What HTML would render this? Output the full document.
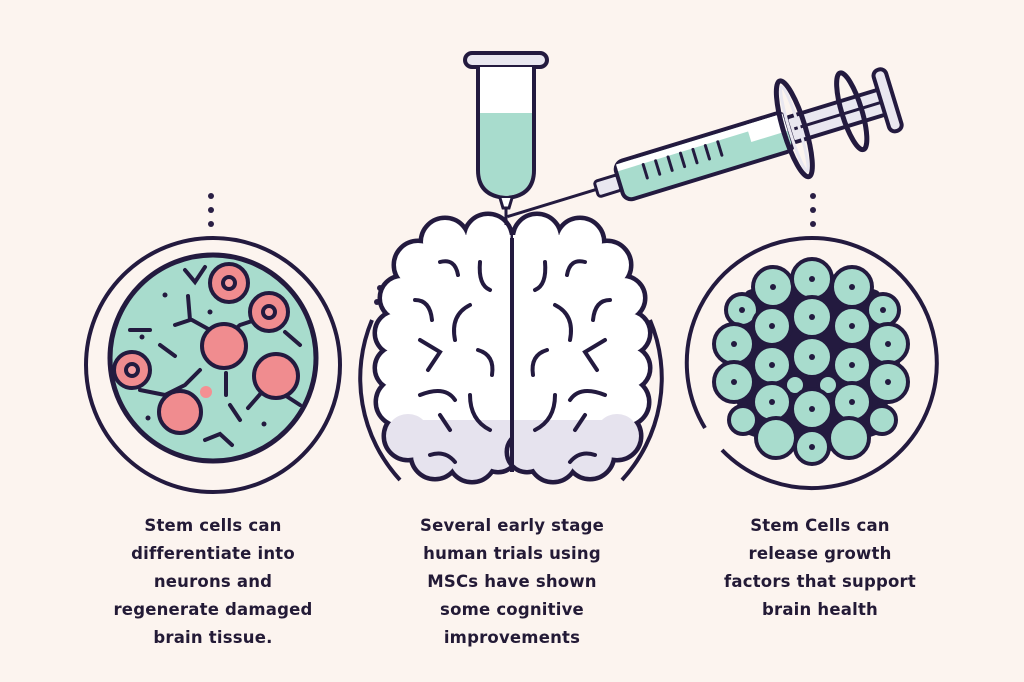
<!DOCTYPE html>
<html><head><meta charset="utf-8"><style>
html,body{margin:0;padding:0;background:#fcf4ef;}
.t{position:absolute;width:260px;text-align:center;font-family:"DejaVu Sans","Liberation Sans",sans-serif;font-weight:bold;font-size:16.5px;line-height:28px;color:#231a36;letter-spacing:0.2px}
</style></head><body>
<div style="position:relative;width:1024px;height:682px;overflow:hidden">
<svg width="1024" height="682" viewBox="0 0 1024 682" style="position:absolute;left:0;top:0">
<g fill="#2a1f45">
<circle cx="211" cy="196" r="3"/><circle cx="211" cy="210" r="3"/><circle cx="211" cy="224" r="3"/>
<circle cx="813" cy="196" r="3"/><circle cx="813" cy="210" r="3"/><circle cx="813" cy="224" r="3"/>
<circle cx="377" cy="302" r="3"/><circle cx="380" cy="288" r="3"/><circle cx="642" cy="306" r="3"/>
</g>
<!-- left -->
<circle cx="213" cy="365" r="127" fill="none" stroke="#231a3f" stroke-width="4"/>
<circle cx="213" cy="358" r="103" fill="#a8dccd" stroke="#231a3f" stroke-width="5"/>
<g stroke="#231a3f" stroke-width="4" fill="none" stroke-linecap="round">
<path d="M185 270 L195 282 L205 267"/><path d="M188 296 L190 320 L175 325"/><path d="M192 320 L210 330"/>
<path d="M160 345 L175 356"/><path d="M150 330 L130 330"/><path d="M140 390 L165 395 L185 385 L200 370"/>
<path d="M228 335 L240 325 L255 320"/><path d="M226 373 L226 395"/><path d="M230 405 L240 420"/>
<path d="M262 392 L248 408"/><path d="M280 392 L300 405"/><path d="M205 440 L220 434 L232 445"/><path d="M285 332 L300 345"/>
</g>
<g fill="#231a3f"><circle cx="165" cy="295" r="2.5"/><circle cx="210" cy="312" r="2.5"/><circle cx="142" cy="337" r="2.5"/><circle cx="148" cy="418" r="2.5"/><circle cx="264" cy="424" r="2.5"/></g>
<g stroke="#231a3f" stroke-width="4" fill="#f08c8f">
<circle cx="229" cy="283" r="19"/><circle cx="269" cy="312" r="19"/><circle cx="132" cy="370" r="18"/>
<circle cx="224" cy="346" r="22"/><circle cx="276" cy="376" r="22"/><circle cx="180" cy="412" r="21"/>
</g>
<g stroke="#231a3f" stroke-width="4" fill="#f7a0a3"><circle cx="229" cy="283" r="6"/><circle cx="269" cy="312" r="6"/><circle cx="132" cy="370" r="6"/></g>
<circle cx="206" cy="392" r="6" fill="#f48f92"/>
<!-- right -->
<path d="M705 428 A125 125 0 1 1 722 450" fill="none" stroke="#231a3f" stroke-width="4"/>
<path d="M730 362 L750 295 L812 272 L875 295 L895 362 L875 430 L812 452 L750 430 Z" fill="#231a3f" stroke="#231a3f" stroke-width="10" stroke-linejoin="round"/>
<g fill="#a8dccd" stroke="#231a3f" stroke-width="4">
<circle cx="773" cy="287" r="20"/><circle cx="812" cy="279" r="20"/><circle cx="852" cy="287" r="20"/>
<circle cx="742" cy="310" r="16"/><circle cx="883" cy="310" r="16"/>
<circle cx="772" cy="326" r="19"/><circle cx="812" cy="317" r="20"/><circle cx="852" cy="326" r="19"/>
<circle cx="734" cy="344" r="20"/><circle cx="888" cy="344" r="20"/>
<circle cx="772" cy="365" r="19"/><circle cx="812" cy="357" r="20"/><circle cx="852" cy="365" r="19"/>
<circle cx="734" cy="382" r="20"/><circle cx="888" cy="382" r="20"/>
<circle cx="795" cy="385" r="10"/><circle cx="828" cy="385" r="10"/>
<circle cx="772" cy="402" r="19"/><circle cx="812" cy="409" r="20"/><circle cx="852" cy="402" r="19"/>
<circle cx="743" cy="420" r="14"/><circle cx="882" cy="420" r="14"/>
<circle cx="776" cy="438" r="20"/><circle cx="812" cy="447" r="17"/><circle cx="849" cy="438" r="20"/>
</g>
<g fill="#231a3f">
<circle cx="773" cy="287" r="3"/><circle cx="812" cy="279" r="3"/><circle cx="852" cy="287" r="3"/><circle cx="742" cy="310" r="3"/><circle cx="883" cy="310" r="3"/>
<circle cx="772" cy="326" r="3"/><circle cx="812" cy="317" r="3"/><circle cx="852" cy="326" r="3"/><circle cx="734" cy="344" r="3"/><circle cx="888" cy="344" r="3"/>
<circle cx="772" cy="365" r="3"/><circle cx="812" cy="357" r="3"/><circle cx="852" cy="365" r="3"/><circle cx="734" cy="382" r="3"/><circle cx="888" cy="382" r="3"/>
<circle cx="772" cy="402" r="3"/><circle cx="812" cy="409" r="3"/><circle cx="852" cy="402" r="3"/><circle cx="812" cy="447" r="3"/>
</g>
<!-- middle arcs -->
<path d="M372 320 A150 150 0 0 0 400 480" fill="none" stroke="#231a3f" stroke-width="4"/>
<path d="M650 320 A150 150 0 0 1 622 480" fill="none" stroke="#231a3f" stroke-width="4"/>
<!-- brain -->
<g id="lobe">
<g stroke="#231a3f" stroke-width="9" fill="#231a3f">
<circle cx="445" cy="242" r="22"/><circle cx="488" cy="238" r="22"/><circle cx="418" cy="265" r="22"/>
<circle cx="402" cy="298" r="20"/><circle cx="397" cy="333" r="20"/><circle cx="397" cy="368" r="20"/>
<circle cx="400" cy="402" r="22"/><circle cx="408" cy="436" r="22"/><circle cx="435" cy="455" r="22"/>
<circle cx="472" cy="458" r="22"/><circle cx="498" cy="452" r="18"/>
</g>
<rect x="405" y="250" width="107" height="185" fill="#fff"/>
<rect x="430" y="235" width="82" height="20" fill="#fff"/>
<rect x="415" y="420" width="97" height="40" fill="#e6e3ee"/>
<g fill="#ffffff">
<circle cx="445" cy="242" r="22"/><circle cx="488" cy="238" r="22"/><circle cx="418" cy="265" r="22"/>
<circle cx="402" cy="298" r="20"/><circle cx="397" cy="333" r="20"/><circle cx="397" cy="368" r="20"/>
<circle cx="400" cy="402" r="22"/><circle cx="408" cy="436" r="22" fill="#e6e3ee"/><circle cx="435" cy="455" r="22" fill="#e6e3ee"/>
<circle cx="472" cy="458" r="22" fill="#e6e3ee"/><circle cx="498" cy="452" r="18" fill="#e6e3ee"/>
</g>
<g stroke="#231a3f" stroke-width="4" fill="none" stroke-linecap="round">
<path d="M440 262 Q455 258 458 275"/><path d="M480 262 Q478 285 490 290"/><path d="M415 300 Q430 300 432 320"/>
<path d="M470 305 Q450 315 455 340"/><path d="M420 340 L440 352 L428 370"/><path d="M478 350 Q495 355 492 375"/>
<path d="M420 395 Q445 385 455 400"/><path d="M440 415 L450 430"/><path d="M470 395 Q470 420 490 430"/><path d="M430 455 Q445 450 455 462"/>
</g>
</g>
<use href="#lobe" transform="translate(1025 0) scale(-1 1)"/>
<line x1="512" y1="238" x2="512" y2="472" stroke="#231a3f" stroke-width="4"/>
<!-- test tube -->
<rect x="465" y="53" width="82" height="14" rx="7" fill="#e9e7f0" stroke="#231a3f" stroke-width="4"/>
<path d="M478 67 L478 170 Q478 196 506 198 Q534 196 534 170 L534 67" fill="#fff"/>
<path d="M480 113 L532 113 L532 170 Q532 194 506 196 Q480 194 480 170 Z" fill="#a8dccd"/>
<path d="M478 67 L478 170 Q478 196 506 198 Q534 196 534 170 L534 67" fill="none" stroke="#231a3f" stroke-width="4"/>
<path d="M500 198 L503 208 L509 208 L512 198" fill="#fff" stroke="#231a3f" stroke-width="3"/>
<line x1="506" y1="208" x2="506" y2="225" stroke="#231a3f" stroke-width="3"/>
<!-- syringe -->
<g transform="translate(627 180) rotate(-17)">
<line x1="-125" y1="0" x2="-30" y2="0" stroke="#231a3f" stroke-width="3"/>
<rect x="-32" y="-8" width="24" height="16" rx="3" fill="#e9e7f0" stroke="#231a3f" stroke-width="3"/>
<rect x="-8" y="-20" width="178" height="40" rx="9" fill="#a8dccd" stroke="#231a3f" stroke-width="4"/>
<rect x="-6" y="-18" width="174" height="7" fill="#fff"/>
<rect x="130" y="-18" width="38" height="18" fill="#fff"/>
<g stroke="#231a3f" stroke-width="3" stroke-linecap="round"><line x1="20" y1="-10" x2="20" y2="4"/><line x1="33" y1="-10" x2="33" y2="4"/><line x1="46" y1="-10" x2="46" y2="4"/><line x1="59" y1="-10" x2="59" y2="4"/><line x1="72" y1="-10" x2="72" y2="4"/><line x1="85" y1="-10" x2="85" y2="4"/><line x1="98" y1="-10" x2="98" y2="4"/></g>
<rect x="170" y="-13" width="100" height="26" rx="3" fill="#e9e7f0" stroke="#231a3f" stroke-width="4"/>
<line x1="175" y1="0" x2="265" y2="0" stroke="#231a3f" stroke-width="3"/>
<ellipse cx="175" cy="0" rx="11" ry="50" fill="none" stroke="#231a3f" stroke-width="5"/>
<ellipse cx="175" cy="0" rx="5" ry="44" fill="none" stroke="#e9e7f0" stroke-width="3"/>
<ellipse cx="235" cy="0" rx="10" ry="40" fill="none" stroke="#231a3f" stroke-width="5"/>
<rect x="266" y="-32" width="13" height="64" rx="6" fill="#e9e7f0" stroke="#231a3f" stroke-width="4"/>
</g>
</svg>
<div class="t" style="left:83px;top:512px">Stem cells can<br>differentiate into<br>neurons and<br>regenerate damaged<br>brain tissue.</div>
<div class="t" style="left:382px;top:512px">Several early stage<br>human trials using<br>MSCs have shown<br>some cognitive<br>improvements</div>
<div class="t" style="left:690px;top:512px">Stem Cells can<br>release growth<br>factors that support<br>brain health</div>
</div>
</body></html>
